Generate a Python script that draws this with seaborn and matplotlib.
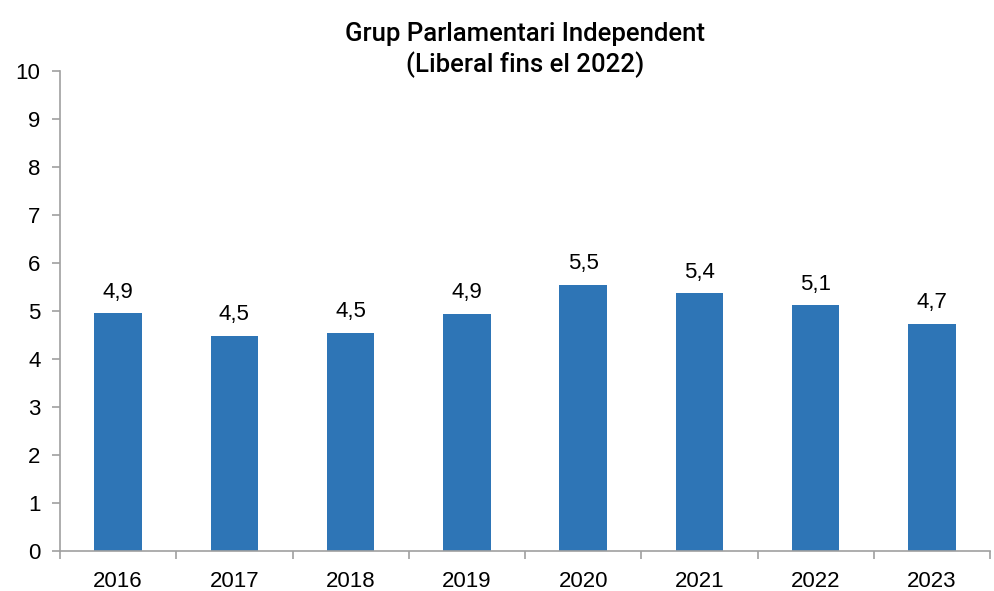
import matplotlib
matplotlib.use("Agg")
import matplotlib.pyplot as plt
import seaborn as sns
import pandas as pd
from matplotlib.ticker import FixedLocator

# dades
anys = ['2016', '2017', '2018', '2019', '2020', '2021', '2022', '2023']
valors = [4.95, 4.48, 4.54, 4.94, 5.54, 5.37, 5.12, 4.73]
etiquetes = ['4,9', '4,5', '4,5', '4,9', '5,5', '5,4', '5,1', '4,7']

df = pd.DataFrame({'any': anys, 'valor': valors})

sns.set_style('white')
plt.rcParams['font.family'] = ['Liberation Sans', 'DejaVu Sans']
plt.rcParams['text.color'] = 'black'
plt.rcParams['xtick.color'] = 'black'
plt.rcParams['ytick.color'] = 'black'

fig = plt.figure(figsize=(9.94, 5.91), dpi=100)
ax = fig.add_axes([0.0604, 0.0677, 0.9356, 0.8123])

sns.barplot(data=df, x='any', y='valor', color='#2E75B6', width=0.41,
            saturation=1, linewidth=0, ax=ax)

for i, t in enumerate(etiquetes):
    ax.text(i, valors[i] + 0.22, t, ha='center', va='bottom', fontsize=16)

ax.set_ylim(0, 10)
ax.set_xlim(-0.5, len(anys) - 0.5)
ax.set_yticks(range(0, 11))
ax.set_xlabel('')
ax.set_ylabel('')
ax.set_title('Grup Parlamentari Independent\n(Liberal fins el 2022)',
             fontsize=18.5, pad=-1, linespacing=1.25,
             family=['Roboto', 'DejaVu Sans'], fontweight='medium')

for s in ['top', 'right']:
    ax.spines[s].set_visible(False)
for s in ['left', 'bottom']:
    ax.spines[s].set_color('#A0A0A0')
    ax.spines[s].set_linewidth(1.2)

ax.tick_params(axis='y', left=True, length=6, color='#A0A0A0', width=1.2,
               labelsize=16, pad=8, labelcolor='black')
ax.tick_params(axis='x', which='major', bottom=False, labelsize=16, pad=11,
               labelcolor='black')
ax.xaxis.set_minor_locator(FixedLocator([i + 0.5 for i in range(-1, len(anys))]))
ax.tick_params(axis='x', which='minor', bottom=True, length=6,
               color='#A0A0A0', width=1.2)

fig.savefig('out.png', dpi=100)
